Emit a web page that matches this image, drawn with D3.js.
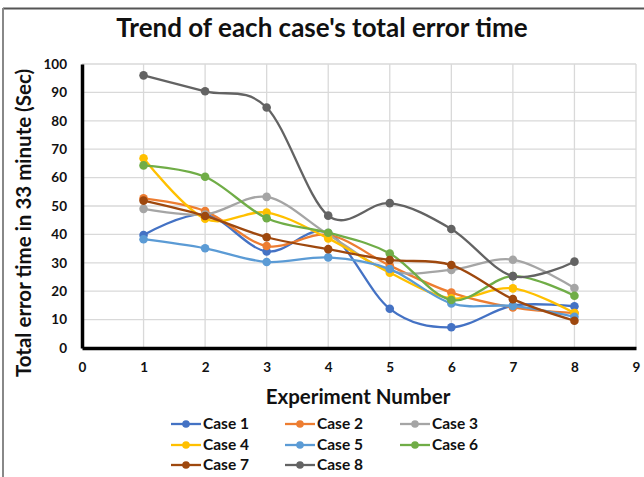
<!DOCTYPE html>
<html>
<head>
<meta charset="utf-8">
<script src="https://cdn.jsdelivr.net/npm/d3@7"></script>
<style>
  body { margin: 0; background: #fff; }
  svg text { font-family: Lato, "Liberation Sans", sans-serif; font-weight: bold; fill: #111; }
</style>
</head>
<body>
<div id="chart"></div>
<script>
// experiment numbers on the x axis
var experiments = [1, 2, 3, 4, 5, 6, 7, 8];

var seriesNames = ["Case 1", "Case 2", "Case 3", "Case 4", "Case 5", "Case 6", "Case 7", "Case 8"];
var seriesColors = ["#4472C4", "#ED7D31", "#A5A5A5", "#FFC000", "#5B9BD5", "#70AD47", "#9E480E", "#636363"];

var case1 = [39.8, 47, 34, 40.5, 13.8, 7.3, 14.9, 14.7];
var case2 = [52.7, 48.2, 35.9, 39.8, 29, 19.5, 14.3, 12.3];
var case3 = [49, 47, 53.2, 40, 27.2, 27.5, 31.1, 21.1];
var case4 = [66.8, 45.5, 47.7, 38.6, 26.5, 17.5, 21, 12.3];
var case5 = [38.3, 35.1, 30.3, 31.9, 27.8, 15.7, 14.8, 11];
var case6 = [64.3, 60.3, 45.7, 40.6, 33.3, 16.9, 25.3, 18.4];
var case7 = [51.9, 46.5, 39, 34.8, 31, 29.2, 17.2, 9.6];
var case8 = [96, 90.4, 84.7, 46.6, 51, 41.9, 25.3, 30.4];

var allSeries = [case1, case2, case3, case4, case5, case6, case7, case8];

var xTicks = d3.range(0, 10);
var yTicks = d3.range(0, 101, 10);

var width = 644, height = 477;
var margin = {top: 64, right: 8, bottom: 129, left: 82};

var svg = d3.select("#chart").append("svg")
    .attr("width", width)
    .attr("height", height);

// outer frame (only top and left edges are visible in the picture)
svg.append("line").attr("x1", 3).attr("x2", width).attr("y1", 8.5).attr("y2", 8.5)
    .attr("stroke", "#555").attr("stroke-width", 2);
svg.append("line").attr("x1", 3).attr("x2", 3).attr("y1", 8).attr("y2", height)
    .attr("stroke", "#888").attr("stroke-width", 2);

var x = d3.scaleLinear().domain([0, 9]).range([margin.left, 636]);
var y = d3.scaleLinear().domain([0, 100]).range([348, margin.top]);

// grid
svg.append("g").selectAll("line.h")
    .data(yTicks.slice(1))
    .enter().append("line")
    .attr("x1", x(0)).attr("x2", x(9))
    .attr("y1", d => y(d)).attr("y2", d => y(d))
    .attr("stroke", "#d9d9d9").attr("stroke-width", 1.3);

svg.append("g").selectAll("line.v")
    .data(xTicks.slice(1))
    .enter().append("line")
    .attr("x1", d => x(d)).attr("x2", d => x(d))
    .attr("y1", y(100)).attr("y2", y(0))
    .attr("stroke", "#d9d9d9").attr("stroke-width", 1.3);

// axes
var xAxis = d3.axisBottom(x).tickValues(xTicks).tickSize(0).tickPadding(14);
var gx = svg.append("g").attr("transform", "translate(0," + y(0) + ")").call(xAxis);
gx.select(".domain").attr("stroke", "#000").attr("stroke-width", 3.5);
gx.selectAll("text").style("font-size", "13.5px");

var yAxis = d3.axisLeft(y).tickValues(yTicks).tickSize(0).tickPadding(15);
var gy = svg.append("g").attr("transform", "translate(" + x(0) + ",0)").call(yAxis);
gy.select(".domain").attr("stroke", "#000").attr("stroke-width", 3.5);
gy.selectAll("text").style("font-size", "13.5px");

// lines
var line = d3.line()
    .x((d, i) => x(experiments[i]))
    .y(d => y(d))
    .curve(d3.curveCardinal.tension(0));

var seriesG = svg.append("g").selectAll("g.series")
    .data(allSeries)
    .enter().append("g")
    .attr("class", "series");

seriesG.append("path")
    .attr("d", d => line(d))
    .attr("fill", "none")
    .attr("stroke", (d, i) => seriesColors[i])
    .attr("stroke-width", 2.3);

seriesG.each(function (d, si) {
  d3.select(this).selectAll("circle")
    .data(d)
    .enter().append("circle")
    .attr("cx", (v, i) => x(experiments[i]))
    .attr("cy", v => y(v))
    .attr("r", 4.3)
    .attr("fill", seriesColors[si]);
});

// title and axis labels
svg.append("text")
    .attr("x", 322).attr("y", 37)
    .attr("text-anchor", "middle")
    .style("font-size", "26px")
    .text("Trend of each case's total error time");

svg.append("text")
    .attr("x", 358).attr("y", 404)
    .attr("text-anchor", "middle")
    .style("font-size", "20.5px")
    .text("Experiment Number");

svg.append("text")
    .attr("transform", "translate(31," + 223 + ")rotate(-90)")
    .attr("text-anchor", "middle")
    .style("font-size", "20.5px")
    .text("Total error time in 33 minute (Sec)");

// legend
var legendCols = [171, 285, 400];
var legendRows = [424, 445, 465];
var legend = svg.append("g").selectAll("g.leg")
    .data(seriesNames)
    .enter().append("g")
    .attr("transform", (d, i) => "translate(" + legendCols[i % 3] + "," + legendRows[Math.floor(i / 3)] + ")");

legend.append("line")
    .attr("x1", 0).attr("x2", 30)
    .attr("stroke", (d, i) => seriesColors[i])
    .attr("stroke-width", 2.3);
legend.append("circle")
    .attr("cx", 15).attr("r", 3.8)
    .attr("fill", (d, i) => seriesColors[i]);
legend.append("text")
    .attr("x", 32).attr("dy", "0.35em")
    .style("font-size", "15.5px")
    .text(d => d);
</script>
</body>
</html>
